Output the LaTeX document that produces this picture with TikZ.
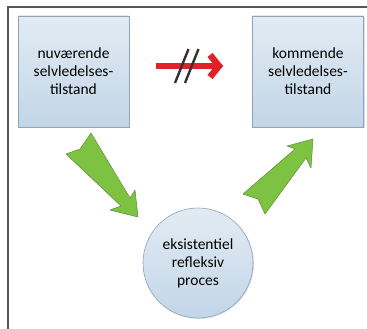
\documentclass[tikz,border=0pt]{standalone}
\usepackage{fontspec}
\setmainfont{Carlito}
\usepackage{tikz}
\usetikzlibrary{arrows.meta,shadows}
\definecolor{state_top}{HTML}{E2EBF3}
\definecolor{state_bot}{HTML}{C2D6E8}
\definecolor{state_rim}{HTML}{8EA3B8}
\definecolor{move_green}{HTML}{7EC242}
\definecolor{move_rim}{HTML}{5E8C38}
\definecolor{block_red}{HTML}{E2202A}
\definecolor{frame}{HTML}{555555}

\begin{document}
\begin{tikzpicture}[x=1pt, y=-1pt]
            \tikzstyle{state} = [draw = state_rim, line width = .6pt, top color = state_top, bottom color = state_bot, align = center, font = \fontsize{15.5}{18}\selectfont, drop shadow = {opacity = .25, shadow xshift = 1pt, shadow yshift = -1pt}];
            \tikzstyle{move} = [fill = move_green, draw = move_rim, line width = .5pt, line join = round];
            \useasboundingbox (0,0) rectangle (367,329);
            % frame of the figure
            \draw[frame, line width = 1.1pt] (367,7) -- (8,7) -- (8,329);
            % the two states and the process
            \node[state, minimum width = 111pt, minimum height = 111pt] (now) at (73.5,71.5) {nuværende\\selvledelses-\\tilstand};
            \node[state, minimum width = 111pt, minimum height = 111pt] (next) at (308,71.5) {kommende\\selvledelses-\\tilstand};
            \node[state, circle, minimum size = 110pt] (proc) at (198,263) {eksistentiel\\refleksiv\\proces};
            % no direct way from one state to the next
            \draw[block_red, line width = 6.5pt, shorten <= 27pt, shorten >= 29pt, -{Straight Barb[length = 9pt, width = 22pt]}] (now.east |- 0,66) -- (next.west |- 0,66);
            \foreach \x in {175, 185}
            {\draw[black!80, line width = 2.4pt] (\x,83) -- (\x+13.5,49);}
            % green arrows through the process
            \draw[move] (91,133) -- (80,149) -- (66,154) -- (121,206) -- (110,210) -- (138,217) -- (135,190) -- (130,198) -- cycle;
            \draw[move] (313,139) -- (287,146) -- (295,149) -- (243,194) -- (258,199) -- (265,214) -- (306,158) -- (311,168) -- cycle;
        \end{tikzpicture}
\end{document}
